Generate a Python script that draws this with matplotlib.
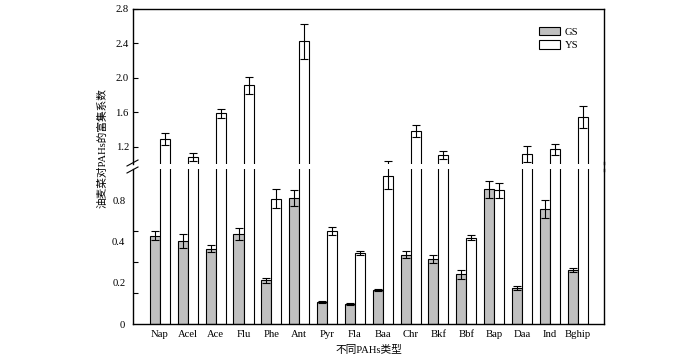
import matplotlib
matplotlib.use("Agg")
import matplotlib.pyplot as plt
from matplotlib.patches import Patch
from matplotlib.lines import Line2D
import numpy as np

# DATA #
categories = ["Nap", "Acel", "Ace", "Flu", "Phe", "Ant", "Pyr", "Fla",
              "Baa", "Chr", "Bkf", "Bbf", "Bap", "Daa", "Ind", "Bghip"]
gs = [0.570, 0.535, 0.486, 0.581, 0.282, 0.811, 0.142, 0.129,
      0.219, 0.447, 0.421, 0.320, 0.869, 0.230, 0.742, 0.348]
gs_err = [0.029, 0.045, 0.021, 0.040, 0.015, 0.052, 0.004, 0.008,
          0.004, 0.024, 0.027, 0.029, 0.055, 0.012, 0.055, 0.013]
ys = [1.294, 1.081, 1.589, 1.915, 0.808, 2.423, 0.602, 0.456,
      0.955, 1.383, 1.104, 0.555, 0.862, 1.116, 1.174, 1.550]
ys_err = [0.068, 0.041, 0.052, 0.099, 0.061, 0.200, 0.027, 0.014,
          0.084, 0.074, 0.050, 0.016, 0.050, 0.093, 0.064, 0.128]
series = ["GS", "YS"]
upper_ticks = [1.2, 1.6, 2.0, 2.4, 2.8]
lower_tick_marks = [0, 0.2, 0.4, 0.6, 0.8]
# label positions as printed in the original (not aligned with tick marks)
lower_label_pos = [0, 0.266, 0.535, 0.8]
lower_labels = ["0", "0.2", "0.4", "0.8"]

FS = 7.7
serif = ["Liberation Serif", "DejaVu Serif"]
plt.rcParams["font.family"] = serif
plt.rcParams["font.size"] = FS

W, H = 700, 358
fig = plt.figure(figsize=(W / 100, H / 100), dpi=100)
left, right = 133, 604
ax_top = fig.add_axes([left / W, 1 - 164 / H, (right - left) / W, 155 / H])
ax_bot = fig.add_axes([left / W, 1 - 324 / H, (right - left) / W, 155 / H])

x = np.arange(len(categories))
bw = 0.36
gs_color = "#c0c0c0"
for ax in (ax_top, ax_bot):
    ax.bar(x - bw / 2, gs, bw, color=gs_color, edgecolor="black", linewidth=0.8, label=series[0])
    ax.bar(x + bw / 2, ys, bw, color="white", edgecolor="black", linewidth=0.8, label=series[1])
    ax.errorbar(x - bw / 2, gs, yerr=gs_err, fmt="none", ecolor="black", elinewidth=0.8, capsize=3, capthick=0.8)
    ax.errorbar(x + bw / 2, ys, yerr=ys_err, fmt="none", ecolor="black", elinewidth=0.8, capsize=3, capthick=0.8)
    ax.set_xlim(-0.97, 15.95)
    for s in ax.spines.values():
        s.set_linewidth(1.0)

ax_top.set_ylim(1.0, 2.8)
ax_bot.set_ylim(0, 1.0)

ax_top.spines["bottom"].set_visible(False)
ax_bot.spines["top"].set_visible(False)
ax_top.set_xticks([])
ax_top.set_yticks(upper_ticks, [f"{v:.1f}" for v in upper_ticks])
ax_top.tick_params(axis="y", direction="in", length=3.5, width=0.8, pad=3)

ax_bot.set_xticks(x, categories)
ax_bot.tick_params(axis="x", length=0, pad=4)
ax_bot.set_yticks(lower_label_pos, lower_labels)
ax_bot.tick_params(axis="y", which="major", length=0, pad=5.5)
ax_bot.set_yticks(lower_tick_marks, minor=True)
ax_bot.tick_params(axis="y", which="minor", direction="in", length=3.5, width=0.8)

# right spine runs across the break
fig.add_artist(Line2D([right / W, right / W], [1 - 171 / H, 1 - 162 / H],
                      transform=fig.transFigure, color="black", linewidth=1.0))
# break marks on the left axis
for yb in (163, 170):
    fig.add_artist(Line2D([(left - 6) / W, (left + 5) / W], [1 - (yb + 3) / H, 1 - (yb - 3) / H],
                          transform=fig.transFigure, color="black", linewidth=0.8))

handles = [Patch(facecolor=gs_color, edgecolor="black", linewidth=0.8, label=series[0]),
           Patch(facecolor="white", edgecolor="black", linewidth=0.8, label=series[1])]
ax_top.legend(handles=handles, loc="upper left", bbox_to_anchor=(0.861, 0.885), frameon=False,
              borderpad=0, borderaxespad=0, handlelength=2.0, handleheight=0.8,
              handletextpad=0.45, labelspacing=0.35, fontsize=FS)

fig.text((left + right) / 2 / W, 1 - 350 / H, "不同PAHs类型", ha="center", va="center",
         fontsize=FS, family=serif[:1] + ["Noto Sans CJK SC"])
fig.text(102 / W, 1 - 148 / H, "油麦菜对PAHs的富集系数", ha="center", va="center", rotation=90,
         fontsize=FS, family=serif[:1] + ["Noto Sans CJK SC"])

fig.savefig("out.png", dpi=100)
